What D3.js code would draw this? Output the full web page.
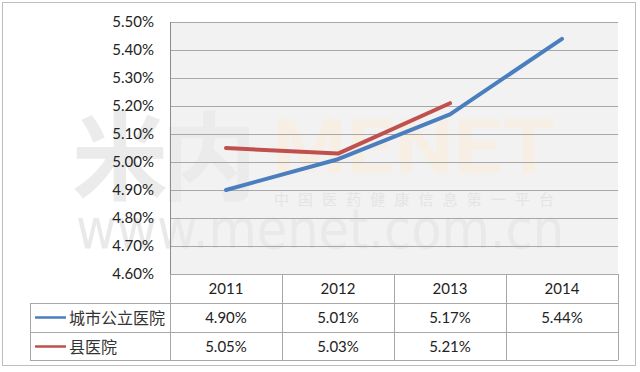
<!DOCTYPE html>
<html lang="zh">
<head>
<meta charset="UTF-8">
<title>医院 2011-2014</title>
<script src="https://d3js.org/d3.v7.min.js"></script>
<style>
  body { margin: 0; background: #fff; }
  text { font-family: Lato, "Noto Sans", sans-serif; }
</style>
</head>
<body>
<script>
// data
var years = ["2011", "2012", "2013", "2014"];
var urbanValues = [4.90, 5.01, 5.17, 5.44];   // 城市公立医院
var countyValues = [5.05, 5.03, 5.21, null];  // 县医院
var seriesNames = ["城市公立医院", "县医院"];
var seriesColors = ["#4a7ebf", "#c0504d"];
var yTicks = [4.6, 4.7, 4.8, 4.9, 5.0, 5.1, 5.2, 5.3, 5.4, 5.5];

var W = 640, H = 372;
var plot = {left: 170, right: 618, top: 22, bottom: 274};
var rowH = 29;

var svg = d3.select("body").append("svg")
    .attr("width", W)
    .attr("height", H);

// outer frame
svg.append("rect")
    .attr("x", 2.5).attr("y", 2.5)
    .attr("width", 633).attr("height", 363)
    .attr("fill", "#fff")
    .attr("stroke", "#bdbdbd");

// plot background
svg.append("rect")
    .attr("x", plot.left).attr("y", plot.top)
    .attr("width", plot.right - plot.left)
    .attr("height", plot.bottom - plot.top)
    .attr("fill", "#f2f2f2");

// faint watermark
var wm = svg.append("g").attr("pointer-events", "none");
wm.append("text")
    .attr("x", 72).attr("y", 192)
    .style("font-family", "'Noto Sans CJK SC'")
    .style("font-weight", "bold")
    .style("font-size", "96px")
    .attr("fill", "#ebebeb")
    .attr("textLength", 185)
    .text("米内");
wm.append("text")
    .attr("x", 272).attr("y", 173)
    .style("font-family", "Roboto")
    .style("font-weight", "bold")
    .style("font-size", "76px")
    .attr("fill", "#f7eee4")
    .attr("textLength", 283)
    .attr("lengthAdjust", "spacingAndGlyphs")
    .text("MENET");
wm.append("text")
    .attr("x", 274).attr("y", 205)
    .style("font-family", "'Noto Sans CJK SC'")
    .style("font-size", "15px")
    .attr("fill", "#e4e4e4")
    .attr("textLength", 280)
    .text("中国医药健康信息第一平台");
wm.append("text")
    .attr("x", 76).attr("y", 248)
    .style("font-family", "'DejaVu Sans'")
    .style("font-size", "56px")
    .attr("fill", "#e9e9e9")
    .attr("textLength", 488)
    .attr("lengthAdjust", "spacingAndGlyphs")
    .text("www.menet.com.cn");

// scales
var x = d3.scaleBand().domain(years).range([plot.left, plot.right]);
var y = d3.scaleLinear().domain([4.6, 5.5]).range([plot.bottom, plot.top]);

// gridlines + y labels
var yAxis = svg.append("g")
    .attr("transform", "translate(" + plot.left + ",0)")
    .call(d3.axisLeft(y)
        .tickValues(yTicks)
        .tickSize(-(plot.right - plot.left))
        .tickPadding(16)
        .tickFormat(function(d) { return d.toFixed(2) + "%"; }));
yAxis.select(".domain").remove();
yAxis.selectAll(".tick line").attr("stroke", "#a8a8a8");
yAxis.selectAll(".tick text")
    .attr("fill", "#222")
    .style("font-size", "15px");

// left axis line
svg.append("line")
    .attr("x1", plot.left + 0.5).attr("x2", plot.left + 0.5)
    .attr("y1", plot.top).attr("y2", plot.bottom)
    .attr("stroke", "#8c8c8c");

// lines
var line = d3.line()
    .defined(function(d) { return d.v != null; })
    .x(function(d) { return x(d.year) + x.bandwidth() / 2; })
    .y(function(d) { return y(d.v); });

[urbanValues, countyValues].forEach(function(vals, i) {
    var pts = years.map(function(yr, j) { return {year: yr, v: vals[j]}; });
    svg.append("path")
        .datum(pts)
        .attr("d", line)
        .attr("fill", "none")
        .attr("stroke", seriesColors[i])
        .attr("stroke-width", 4)
        .attr("stroke-linecap", "round")
        .attr("stroke-linejoin", "round");
});

// data table
var table = svg.append("g");
var tableLeft = 30, lineCol = "#a8a8a8";
var rowTop = [plot.bottom, plot.bottom + rowH, plot.bottom + rowH * 2];
var tableBottom = plot.bottom + rowH * 3 - 1;

// horizontal lines
table.append("line")
    .attr("x1", plot.left).attr("x2", plot.right)
    .attr("y1", plot.bottom + 0.5).attr("y2", plot.bottom + 0.5)
    .attr("stroke", lineCol);
[rowTop[1], rowTop[2], tableBottom].forEach(function(yy) {
    table.append("line")
        .attr("x1", tableLeft).attr("x2", plot.right)
        .attr("y1", yy + 0.5).attr("y2", yy + 0.5)
        .attr("stroke", lineCol);
});
// vertical lines
table.append("line")
    .attr("x1", tableLeft + 0.5).attr("x2", tableLeft + 0.5)
    .attr("y1", rowTop[1]).attr("y2", tableBottom)
    .attr("stroke", lineCol);
years.forEach(function(yr) {
    table.append("line")
        .attr("x1", x(yr) + 0.5).attr("x2", x(yr) + 0.5)
        .attr("y1", plot.bottom).attr("y2", tableBottom)
        .attr("stroke", lineCol);
});
table.append("line")
    .attr("x1", plot.right + 0.5).attr("x2", plot.right + 0.5)
    .attr("y1", plot.bottom).attr("y2", tableBottom)
    .attr("stroke", lineCol);

// header
table.selectAll(".yr")
    .data(years)
    .enter().append("text")
    .attr("x", function(d) { return x(d) + x.bandwidth() / 2; })
    .attr("y", rowTop[0] + rowH / 2 + 5)
    .attr("text-anchor", "middle")
    .attr("fill", "#222")
    .style("font-size", "15px")
    .text(function(d) { return d; });

// rows
[urbanValues, countyValues].forEach(function(vals, i) {
    var cy = rowTop[i + 1] + rowH / 2;
    table.append("line")
        .attr("x1", 35).attr("x2", 66)
        .attr("y1", cy).attr("y2", cy)
        .attr("stroke", seriesColors[i])
        .attr("stroke-width", 2.5);
    table.append("text")
        .attr("x", 69).attr("y", cy + 6)
        .style("font-family", "'Noto Sans CJK SC'")
        .style("font-size", "16px")
        .attr("fill", "#333")
        .text(seriesNames[i]);
    years.forEach(function(yr, j) {
        if (vals[j] == null) return;
        table.append("text")
            .attr("x", x(yr) + x.bandwidth() / 2)
            .attr("y", cy + 5)
            .attr("text-anchor", "middle")
            .attr("fill", "#222")
            .style("font-size", "15px")
            .text(vals[j].toFixed(2) + "%");
    });
});
</script>
</body>
</html>
